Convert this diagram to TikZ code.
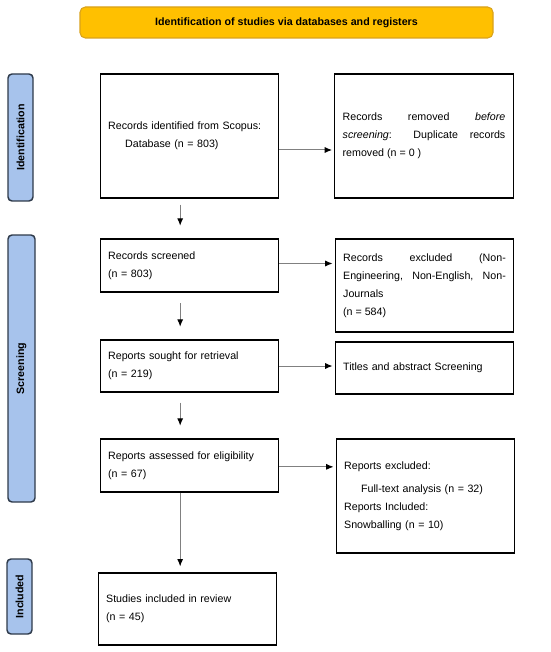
\documentclass[tikz,border=0pt]{standalone}
\usepackage{fontspec}
\setmainfont{Liberation Sans}
\usetikzlibrary{arrows.meta}
\definecolor{idorange}{HTML}{FFC000}
\definecolor{idorangeline}{HTML}{D9A21B}
\definecolor{phaseblue}{HTML}{A7C3EC}
\definecolor{phaseline}{HTML}{2E3A4A}
\begin{document}
\begin{tikzpicture}[x=0.75pt, y=-0.75pt, font=\fontsize{8}{13.5}\selectfont,
    box/.style={draw, line width=0.9pt, inner sep=0pt, text width=122pt, minimum width=134pt, align=left},
    phase/.style={draw=phaseline, fill=phaseblue, line width=1.1pt, rounded corners=3pt, rotate=90, inner sep=0pt, font=\fontsize{8}{9.6}\selectfont\bfseries},
    arr/.style={draw=gray, line width=0.75pt, -{Latex[length=5.5pt, width=4.5pt, color=black]}},
    vgap/.style={shorten <=4.5pt, shorten >=9.5pt}]
  \useasboundingbox (0,0) rectangle (550,652);
  % header and phases
  \node (head) at (286.5,22.5) [draw=idorangeline, fill=idorange, line width=0.8pt, rounded corners=4pt, minimum width=309.75pt, minimum height=23.25pt, font=\fontsize{8}{9.6}\selectfont\bfseries] {Identification of studies via databases and registers};
  \node (pid) at (20.5,137.5) [phase, minimum width=95.25pt, minimum height=18.75pt] {Identification};
  \node (pscr) at (21.5,368.5) [phase, minimum width=200.25pt, minimum height=20.25pt] {Screening};
  \node (pinc) at (19.5,596.5) [phase, minimum width=56.25pt, minimum height=18.75pt] {Included};
  % main column
  \node (ident) at (189.5,136) [box, minimum height=93pt] {Records identified from Scopus:\\ \hspace*{12.75pt}Database (n = 803)};
  \node (scrn) at (189.5,265.5) [box, minimum height=39.75pt] {Records screened\\(n = 803)};
  \node (sought) at (189.5,366) [box, minimum height=39pt] {Reports sought for retrieval\\(n = 219)};
  \node (elig) at (189.5,465.5) [box, minimum height=39.75pt] {Reports assessed for eligibility\\(n = 67)};
  \node (incl) at (187.5,609) [box, minimum height=54pt] {Studies included in review\\(n = 45)};
  % side column
  \node (dup) at (424,136) [box, align=justify, minimum height=93pt] {Records removed \textit{before}\linebreak \textit{screening}: Duplicate records\linebreak removed\ (n = 0 )};
  \node (excl) at (424.5,285.5) [box, align=justify, minimum height=69.75pt] {Records excluded (Non-\linebreak Engineering, Non-English, Non-\linebreak Journals\\(n = 584)};
  \node (tabs) at (424.5,368) [box, minimum height=39pt] {Titles and abstract Screening};
  \node (rexc) at (425.5,496) [box, minimum height=85.5pt] {Reports excluded:\\[4pt] \hspace*{12.75pt}Full-text analysis (n = 32)\\ Reports Included:\\ Snowballing (n = 10)\\[3pt]};
  % arrows
  \draw[arr, shorten >=1.5pt] ([yshift=-10.5pt]ident.east) -- ([yshift=-10.5pt]ident.east -| dup.west);
  \draw[arr, shorten >=1.5pt] ([yshift=1.5pt]scrn.east) -- ([yshift=1.5pt]scrn.east -| excl.west);
  \draw[arr, shorten >=1.5pt] (sought.east) -- (sought.east -| tabs.west);
  \draw[arr, shorten >=1.5pt] ([yshift=-1pt]elig.east) -- ([yshift=-1pt]elig.east -| rexc.west);
  \draw[arr, vgap] ([xshift=-7pt]ident.south) -- ([xshift=-7pt]scrn.north);
  \draw[arr, vgap, shorten <=8pt] ([xshift=-7pt]scrn.south) -- ([xshift=-7pt]sought.north);
  \draw[arr, vgap, shorten <=7.5pt] ([xshift=-7pt]sought.south) -- ([xshift=-7pt]elig.north);
  \draw[arr, shorten >=4.5pt] ([xshift=-7pt]elig.south) -- ([xshift=-7pt]elig.south |- incl.north);
\end{tikzpicture}
\end{document}
